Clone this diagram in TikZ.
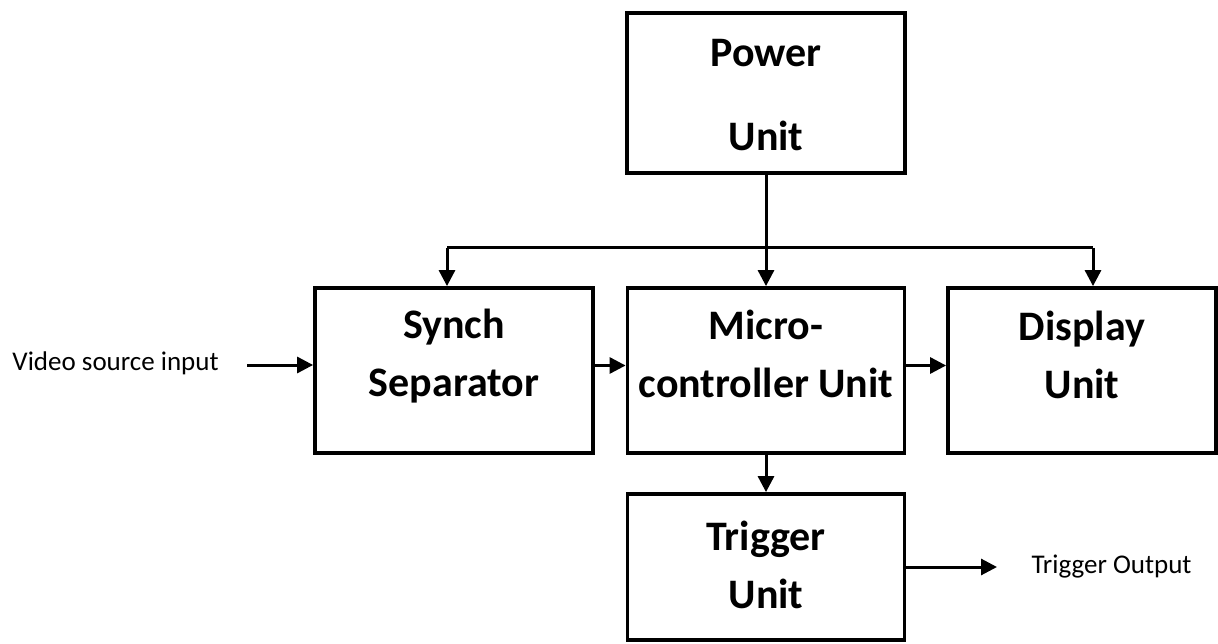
\documentclass[tikz,border=0pt]{standalone}
\usepackage{fontspec}
\setmainfont{Carlito}
\usetikzlibrary{arrows.meta}

\begin{document}
\begin{tikzpicture}[x=1pt, y=-1pt, line width=3pt,
      >={Triangle[length=16pt,width=16pt]},
      every node/.append style={font=\fontsize{27}{32}\selectfont}]
    \tikzstyle{unit} = [draw,line width=3.8pt,minimum width=278pt,minimum height=165pt,inner sep=0pt]
    \tikzstyle{unitname} = [align=center,inner sep=0pt,font=\fontsize{42}{58}\selectfont\bfseries]
    \tikzstyle{sigtext} = [anchor=west,inner sep=0pt]
    \useasboundingbox (0,0) rectangle (1218,644);
    % blocks
    \node (power) [unit,minimum height=160pt] at (766,93) {};
    \node (synch) [unit] at (454,370.5) {};
    \node (micro) [unit,minimum width=277pt] at (766,370.5) {};
    \node (display) [unit,minimum width=268pt] at (1082,370.5) {};
    \node (trigger) [unit,minimum width=277pt,minimum height=146pt] at (766,567) {};
    % block names
    \node (powername) [unitname,font=\fontsize{42}{84}\selectfont\bfseries] at ([yshift=-2pt]power.center) {Power\\Unit};
    \node (synchname) [unitname] at ([yshift=14pt]synch.center) {Synch\\Separator};
    \node (microname) [unitname] at ([yshift=17pt]micro.center) {Micro-\\controller Unit};
    \node (displayname) [unitname] at ([yshift=16pt]display.center) {Display\\Unit};
    \node (triggername) [unitname] at ([yshift=2pt]trigger.center) {Trigger\\Unit};
    % outer signals
    \node (video) [sigtext] at (11,363) {Video source input};
    \node (toutput) [sigtext] at (1030,567) {Trigger Output};
    \coordinate (vin) at (247,365);
    \coordinate (busL) at (447,248);
    \coordinate (busR) at (1093,248);
    % power bus
    \draw (busL) -- (busR);
    \draw[->] (power) -- (micro);
    \draw[->] (busL) -- (busL |- synch.north);
    \draw[->] (busR) -- (busR |- display.north);
    % signal path
    \draw[->] (vin) -- (vin -| synch.west);
    \draw[->] ([yshift=5pt]synch.east) -- ([yshift=5pt]micro.west);
    \draw[->] ([yshift=5pt]micro.east) -- ([yshift=5pt]display.west);
    \draw[->] (micro) -- (trigger);
    \draw[->] (trigger) -- ([xshift=-33pt]toutput.west);
\end{tikzpicture}
\end{document}
